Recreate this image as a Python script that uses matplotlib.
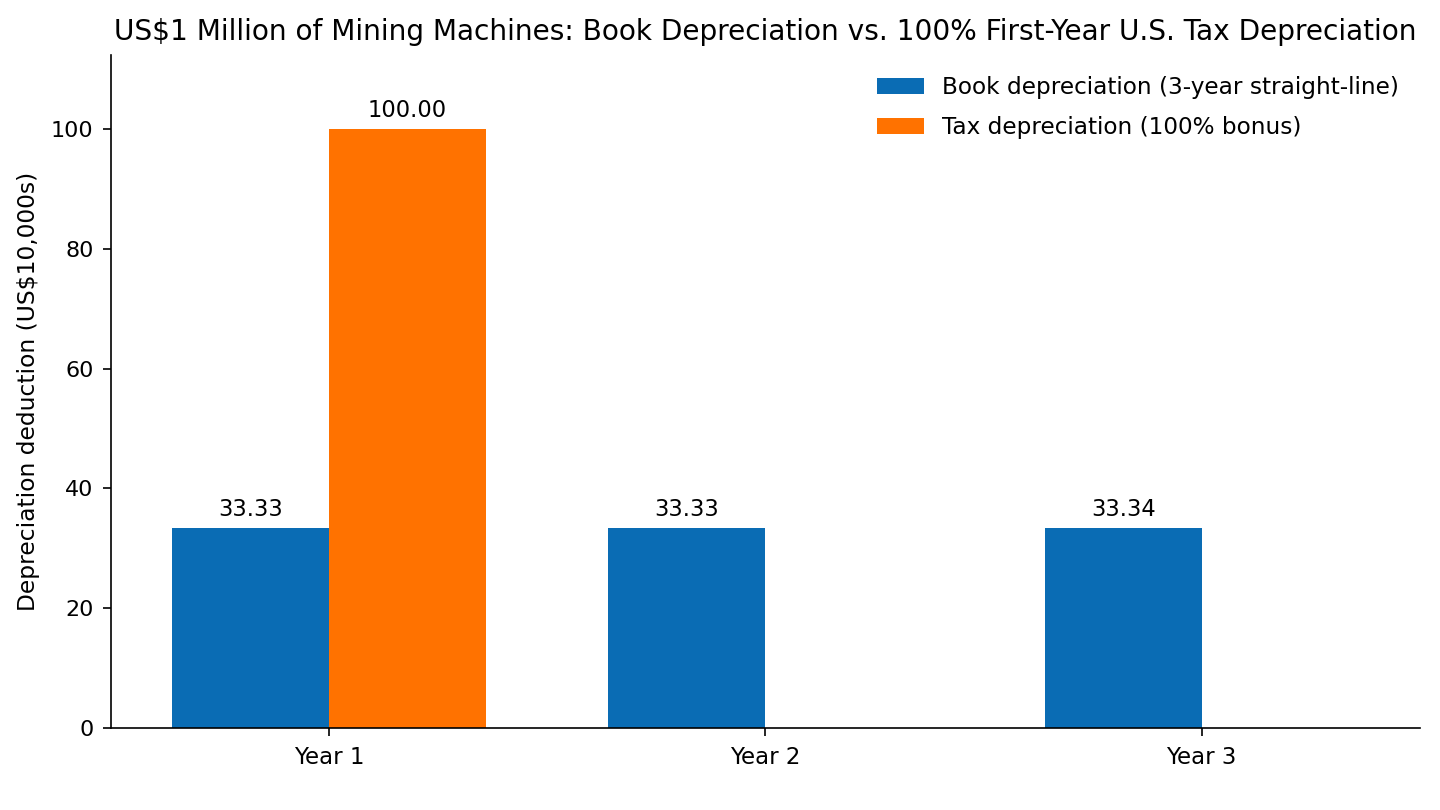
import matplotlib
matplotlib.use("Agg")
import matplotlib.pyplot as plt
import numpy as np

years = ["Year 1", "Year 2", "Year 3"]
book_dep = [33.33, 33.33, 33.34]
tax_dep = [100.00, 0.0, 0.0]
book_label = "Book depreciation (3-year straight-line)"
tax_label = "Tax depreciation (100% bonus)"
title = "US$1 Million of Mining Machines: Book Depreciation vs. 100% First-Year U.S. Tax Depreciation"
ylabel = "Depreciation deduction (US$10,000s)"

fig, ax = plt.subplots(figsize=(14.4, 8.1), dpi=100)
fig.subplots_adjust(left=0.077, right=0.986, top=0.932, bottom=0.101)

x = np.arange(len(years))
w = 0.36
b1 = ax.bar(x - w / 2, book_dep, w, color="#0a6cb4", label=book_label)
b2 = ax.bar(x + w / 2, tax_dep, w, color="#ff7200", label=tax_label)

for rects, vals in ((b1, book_dep), (b2, tax_dep)):
    for r, v in zip(rects, vals):
        if v > 0:
            ax.annotate(f"{v:.2f}", (r.get_x() + r.get_width() / 2, v),
                        xytext=(0, 5), textcoords="offset points",
                        ha="center", va="bottom", fontsize=16.3)

ax.set_xticks(x)
ax.set_xticklabels(years, fontsize=16.5)
ax.tick_params(axis="y", labelsize=16)
ax.tick_params(axis="both", length=6, width=1.2, pad=6.5)
ax.set_xlim(-0.5, 2.5)
ax.set_ylim(0, 112.3)
ax.set_ylabel(ylabel, fontsize=16.8, labelpad=8)
ax.set_title(title, fontsize=20.2, pad=11)
for s in ("top", "right"):
    ax.spines[s].set_visible(False)
for s in ("left", "bottom"):
    ax.spines[s].set_linewidth(1.2)
ax.legend(frameon=False, fontsize=16.7, loc="upper right",
          bbox_to_anchor=(1.0, 1.0), labelspacing=0.75)

fig.savefig("out.png", dpi=100)
